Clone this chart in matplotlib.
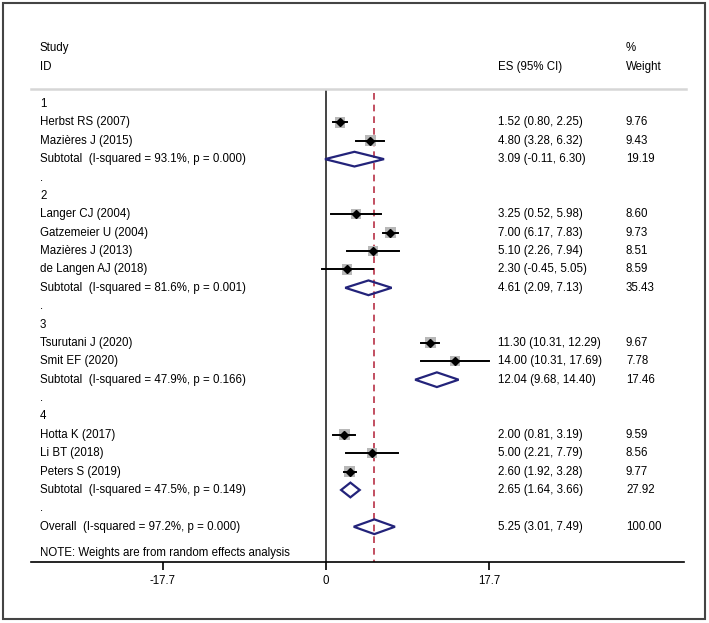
import matplotlib
matplotlib.use('Agg')
import matplotlib.pyplot as plt
from matplotlib.patches import Polygon, Rectangle
import matplotlib.transforms as mtransforms
import numpy as np

plt.rcParams['font.family'] = ['Liberation Sans', 'DejaVu Sans']

# rows of the forest plot, top to bottom
labels = ['1', 'Herbst RS (2007)', 'Mazières J (2015)', 'Subtotal  (I-squared = 93.1%, p = 0.000)', '.',
          '2', 'Langer CJ (2004)', 'Gatzemeier U (2004)', 'Mazières J (2013)', 'de Langen AJ (2018)',
          'Subtotal  (I-squared = 81.6%, p = 0.001)', '.',
          '3', 'Tsurutani J (2020)', 'Smit EF (2020)', 'Subtotal  (I-squared = 47.9%, p = 0.166)', '.',
          '4', 'Hotta K (2017)', 'Li BT (2018)', 'Peters S (2019)', 'Subtotal  (I-squared = 47.5%, p = 0.149)', '.',
          'Overall  (I-squared = 97.2%, p = 0.000)']
kinds = ['h', 's', 's', 'd', 'h',
         'h', 's', 's', 's', 's', 'd', 'h',
         'h', 's', 's', 'd', 'h',
         'h', 's', 's', 's', 'd', 'h',
         'd']
es = [None, 1.52, 4.80, 3.09, None,
      None, 3.25, 7.00, 5.10, 2.30, 4.61, None,
      None, 11.30, 14.00, 12.04, None,
      None, 2.00, 5.00, 2.60, 2.65, None,
      5.25]
lo = [None, 0.80, 3.28, -0.11, None,
      None, 0.52, 6.17, 2.26, -0.45, 2.09, None,
      None, 10.31, 10.31, 9.68, None,
      None, 0.81, 2.21, 1.92, 1.64, None,
      3.01]
hi = [None, 2.25, 6.32, 6.30, None,
      None, 5.98, 7.83, 7.94, 5.05, 7.13, None,
      None, 12.29, 17.69, 14.40, None,
      None, 3.19, 7.79, 3.28, 3.66, None,
      7.49]
weights = [None, 9.76, 9.43, 19.19, None,
           None, 8.60, 9.73, 8.51, 8.59, 35.43, None,
           None, 9.67, 7.78, 17.46, None,
           None, 9.59, 8.56, 9.77, 27.92, None,
           100.00]
xticks = [-17.7, 0, 17.7]
overall_es = 5.25

W, H = 709, 623
fig = plt.figure(figsize=(W / 100, H / 100), dpi=100)
fig.patch.set_facecolor('white')

# pixel geometry
x0_px, x1_px, zero_px, tick_px = 31, 684, 326, 163
top_px, bot_px, row0_px, rowstep = 89, 562, 104, 18.38
ppu = (zero_px - tick_px) / 17.7
ax = fig.add_axes([x0_px / W, 1 - bot_px / H, (x1_px - x0_px) / W, (bot_px - top_px) / H])
ax.set_xlim((x0_px - zero_px) / ppu, (x1_px - zero_px) / ppu)
ax.set_ylim((bot_px - row0_px) / rowstep, (top_px - row0_px) / rowstep)
for s in ['top', 'right', 'left']:
    ax.spines[s].set_visible(False)
ax.spines['bottom'].set_linewidth(1.2)
ax.set_yticks([])
ax.set_xticks(xticks)
ax.set_xticklabels(['-17.7', '0', '17.7'], fontsize=8.3)
ax.tick_params(axis='x', length=6, width=1.2, pad=3)

FS = 8.3
trans = mtransforms.blended_transform_factory(fig.transFigure, ax.transData)
col_lab, col_es, col_w = 40 / W, 498 / W, 626 / W
NAVY = '#23237a'

for i, (lab, k) in enumerate(zip(labels, kinds)):
    ax.text(col_lab, i, lab, transform=trans, fontsize=FS, va='center', ha='left')
    if es[i] is None:
        continue
    ax.text(col_es, i, f'{es[i]:.2f} ({lo[i]:.2f}, {hi[i]:.2f})', transform=trans,
            fontsize=FS, va='center', ha='left')
    ax.text(col_w, i, f'{weights[i]:.2f}', transform=trans, fontsize=FS, va='center', ha='left')
    if k == 's':
        side = np.sqrt(weights[i]) * 3.5 / ppu
        hs = side * ppu / rowstep
        ax.add_patch(Rectangle((es[i] - side / 2, i - hs / 2), side, hs,
                               fc='#b8b8b8', ec='none', zorder=3))
        ax.plot([lo[i], hi[i]], [i, i], color='black', lw=1.4, zorder=4)
        ax.plot(es[i], i, marker='D', color='black', ms=4.5, zorder=5)
    else:
        ax.add_patch(Polygon([[lo[i], i], [es[i], i - 0.4], [hi[i], i], [es[i], i + 0.4]],
                             closed=True, fill=False, ec=NAVY, lw=1.6, zorder=4))

ax.text(col_lab, 24.43, 'NOTE: Weights are from random effects analysis', transform=trans,
        fontsize=FS, va='center', ha='left')

# zero line and overall dashed line
ax.plot([0, 0], [ax.get_ylim()[1], ax.get_ylim()[0]], color='#444444', lw=1.4, zorder=2)
ax.plot([overall_es, overall_es], [(93 - row0_px) / rowstep, ax.get_ylim()[0]],
        color='#b83046', lw=1.2, ls=(0, (4, 3)), zorder=1)

# header
fig.text(col_lab, 1 - 48 / H, 'Study', fontsize=FS, va='center')
fig.text(col_lab, 1 - 67 / H, 'ID', fontsize=FS, va='center')
fig.text(col_es, 1 - 67 / H, 'ES (95% CI)', fontsize=FS, va='center')
fig.text(col_w, 1 - 48 / H, '%', fontsize=FS, va='center')
fig.text(col_w, 1 - 67 / H, 'Weight', fontsize=FS, va='center')
fig.add_artist(plt.Line2D([31 / W, 686 / W], [1 - 89 / H, 1 - 89 / H], color='#d6d6d6', lw=1.8))

# outer frame
fig.add_artist(Rectangle((3 / W, 1 - 619 / H), 702 / W, 616 / H, transform=fig.transFigure,
                         fill=False, ec='#444444', lw=1.5))

fig.savefig('out.png', dpi=100, facecolor='white')
